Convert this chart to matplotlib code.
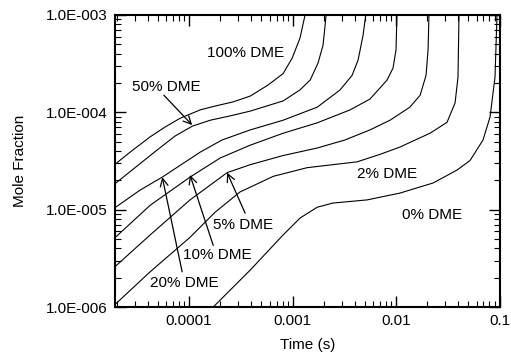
import math
import matplotlib
matplotlib.use("Agg")
import matplotlib.pyplot as plt
from matplotlib.ticker import FixedLocator, FuncFormatter, NullFormatter, LogLocator

plt.rcParams['font.family'] = ['Liberation Sans', 'DejaVu Sans']
plt.rcParams['font.size'] = 11

# mole fraction vs time
t_100 = [1.9e-5, 2.69e-5, 4.2e-5, 5.9e-5, 8.2e-5, 1.28e-4, 1.78e-4, 2.66e-4, 3.9e-4, 5.8e-4, 8.1e-4, 9.9e-4, 1.18e-3, 1.32e-3, 1.36e-3]
y_100 = [2.9e-5, 3.9e-5, 5.6e-5, 7.1e-5, 8.7e-5, 1.06e-4, 1.16e-4, 1.28e-4, 1.47e-4, 1.91e-4, 2.5e-4, 3.6e-4, 5.8e-4, 1.0e-3, 1.2e-3]

t_50 = [1.9e-5, 3.0e-5, 4.9e-5, 7.3e-5, 1.07e-4, 1.6e-4, 2.5e-4, 3.9e-4, 8.1e-4, 1.18e-3, 1.48e-3, 1.76e-3, 1.97e-3, 2.11e-3, 2.15e-3]
y_50 = [1.83e-5, 2.7e-5, 4.1e-5, 5.7e-5, 7.2e-5, 8.3e-5, 9.2e-5, 1.03e-4, 1.31e-4, 1.7e-4, 2.15e-4, 3.2e-4, 4.9e-4, 1.0e-3, 1.2e-3]

t_20 = [1.9e-5, 3.36e-5, 5.5e-5, 1.28e-4, 2.08e-4, 3.9e-4, 8.1e-4, 1.73e-3, 2.88e-3, 3.76e-3, 4.3e-3, 4.8e-3, 5.1e-3, 5.2e-3]
y_20 = [1.04e-5, 1.59e-5, 2.16e-5, 3.9e-5, 5.2e-5, 6.6e-5, 8.3e-5, 1.13e-4, 1.7e-4, 2.4e-4, 3.45e-4, 6.2e-4, 1.0e-3, 1.2e-3]

t_10 = [1.9e-5, 4.2e-5, 1.02e-4, 2.0e-4, 3.9e-4, 8.1e-4, 1.73e-3, 3.6e-3, 5.6e-3, 7.0e-3, 8.2e-3, 9.35e-3, 1.0e-2, 1.02e-2, 1.03e-2]
y_10 = [5.1e-6, 1.11e-5, 2.16e-5, 3.4e-5, 4.6e-5, 6.1e-5, 7.8e-5, 1.06e-4, 1.37e-4, 1.78e-4, 2.15e-4, 2.85e-4, 4.4e-4, 1.0e-3, 1.2e-3]

t_5 = [1.9e-5, 4.2e-5, 1.02e-4, 2.33e-4, 3.9e-4, 8.1e-4, 1.73e-3, 3.21e-3, 5.6e-3, 8.75e-3, 1.36e-2, 1.71e-2, 1.95e-2, 2.04e-2, 2.08e-2, 2.1e-2]
y_5 = [2.57e-6, 5.5e-6, 1.26e-5, 2.4e-5, 2.9e-5, 3.6e-5, 4.3e-5, 5.2e-5, 6.6e-5, 8.3e-5, 1.13e-4, 1.5e-4, 2.4e-4, 4.4e-4, 1.0e-3, 1.2e-3]

t_2 = [1.9e-5, 4.2e-5, 1.02e-4, 1.78e-4, 3.1e-4, 6.5e-4, 1.38e-3, 4.2e-3, 7.0e-3, 1.09e-2, 2.13e-2, 3.11e-2, 3.72e-2, 3.97e-2, 4.06e-2, 4.1e-2]
y_2 = [1.05e-6, 2.3e-6, 5.2e-6, 9.4e-6, 1.52e-5, 2.2e-5, 2.7e-5, 3.1e-5, 3.7e-5, 4.4e-5, 6.1e-5, 7.9e-5, 1.25e-4, 2.3e-4, 1.0e-3, 1.2e-3]

t_0 = [1.28e-4, 1.71e-4, 3.9e-4, 8.1e-4, 1.18e-3, 1.73e-3, 2.46e-3, 5.25e-3, 1.09e-2, 2.28e-2, 3.88e-2, 5.19e-2, 6.93e-2, 8.1e-2, 9.05e-2, 9.46e-2, 9.5e-2]
y_0 = [7.3e-7, 1.0e-6, 2.4e-6, 5.5e-6, 8.2e-6, 1.06e-5, 1.17e-5, 1.26e-5, 1.48e-5, 1.88e-5, 2.55e-5, 3.2e-5, 5.2e-5, 8.95e-5, 2.3e-4, 1.0e-3, 1.2e-3]

curves = [(t_100, y_100), (t_50, y_50), (t_20, y_20), (t_10, y_10),
          (t_5, y_5), (t_2, y_2), (t_0, y_0)]

x_ticks = [1e-4, 1e-3, 1e-2, 1e-1]
x_labels = ["0.0001", "0.001", "0.01", "0.1"]
y_ticks = [1e-6, 1e-5, 1e-4, 1e-3]

# label text, text anchor (left, centre), arrow tail, arrow tip
labels = [
    ("100% DME", (1.49e-4, 4.07e-4), None, None),
    ("50% DME", (2.81e-5, 1.82e-4), (5.7e-5, 1.5e-4), (1.07e-4, 7.4e-5)),
    ("20% DME", (4.2e-5, 1.76e-6), (8.56e-5, 2.3e-6), (5.5e-5, 2.16e-5)),
    ("10% DME", (8.75e-5, 3.4e-6), (1.71e-4, 4.3e-6), (1.02e-4, 2.27e-5)),
    ("5% DME", (1.71e-4, 6.95e-6), (3.48e-4, 9.2e-6), (2.33e-4, 2.4e-5)),
    ("2% DME", (4.2e-3, 2.3e-5), None, None),
    ("0% DME", (1.14e-2, 8.8e-6), None, None),
]

fig = plt.figure(figsize=(5.11, 3.52), dpi=100)
ax = fig.add_axes([0.225, 0.1278, 0.7525, 0.8296])

for t, y in curves:
    ax.plot(t, y, color='black', lw=0.8)

ax.set_xscale('log')
ax.set_yscale('log')
ax.set_xlim(1.92e-5, 0.1)
ax.set_ylim(1e-6, 1e-3)

ax.xaxis.set_major_locator(FixedLocator(x_ticks))
ax.set_xticklabels(x_labels)
ax.xaxis.set_minor_locator(LogLocator(base=10, subs=range(2, 10)))
ax.xaxis.set_minor_formatter(NullFormatter())
ax.yaxis.set_major_locator(FixedLocator(y_ticks))
ax.yaxis.set_major_formatter(FuncFormatter(lambda v, _: "1.0E%+04d" % round(math.log10(v))))
ax.yaxis.set_minor_locator(LogLocator(base=10, subs=range(2, 10)))
ax.yaxis.set_minor_formatter(NullFormatter())

ax.tick_params(which='both', direction='in', top=True, right=True, labelsize=11)
ax.tick_params(which='major', length=8, width=1.0, pad=5)
ax.tick_params(which='minor', length=4, width=0.8)
for s in ax.spines.values():
    s.set_linewidth(1.5)

ax.set_xlabel("Time (s)", labelpad=7)
ax.set_ylabel("Mole Fraction", labelpad=14)

for text, pos, tail, tip in labels:
    ax.text(pos[0], pos[1], text, ha='left', va='center', fontsize=11)
    if tail is not None:
        ax.annotate('', xy=tip, xytext=tail,
                    arrowprops=dict(arrowstyle='->', color='black', lw=0.9,
                                    mutation_scale=14, shrinkA=0, shrinkB=0))

fig.savefig("out.png", dpi=100)
